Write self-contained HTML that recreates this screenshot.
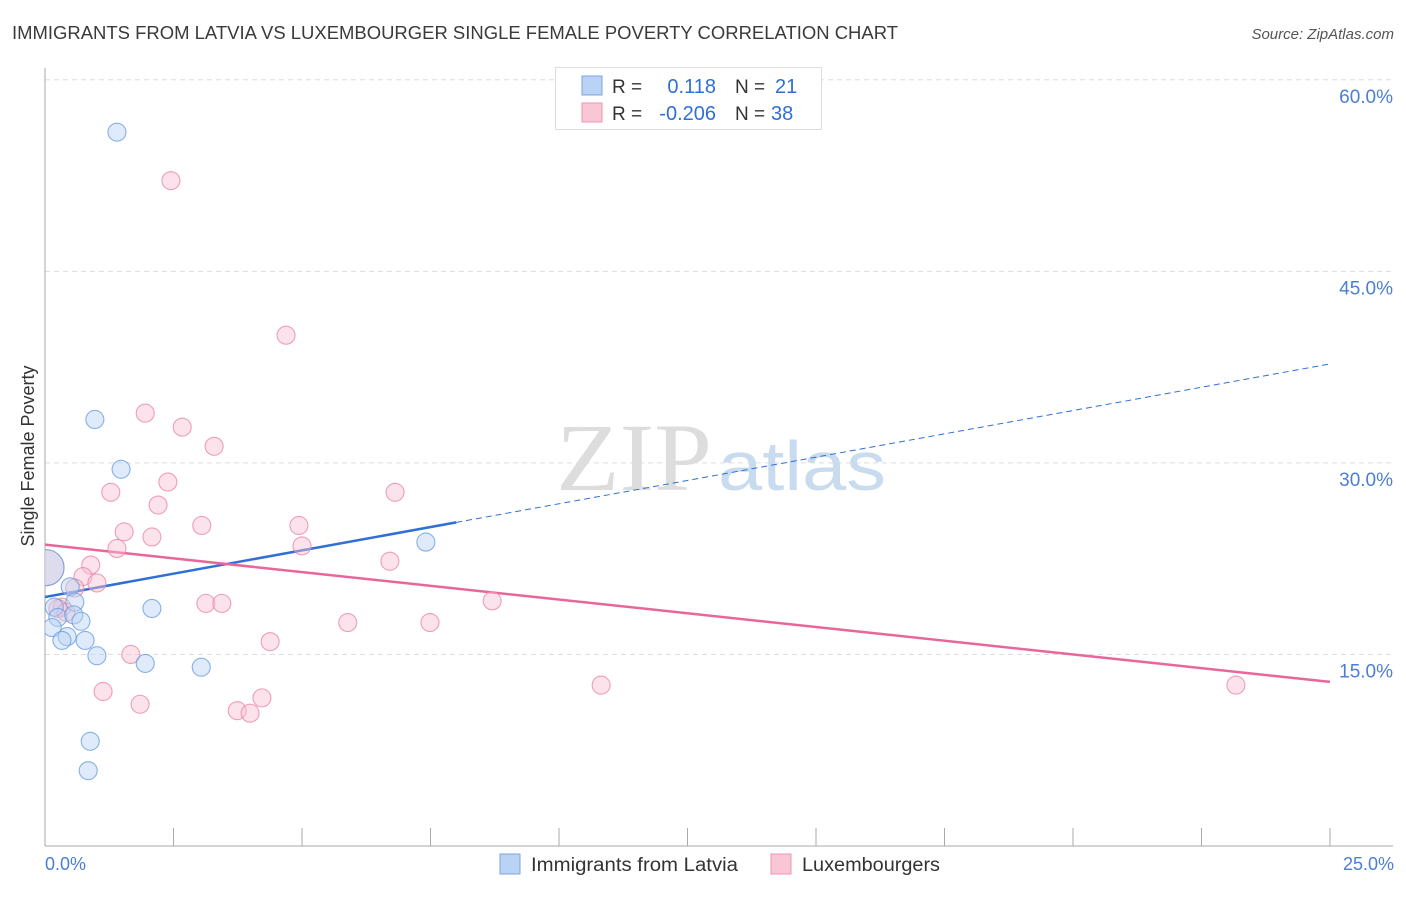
<!DOCTYPE html>
<html><head><meta charset="utf-8"><style>
body{margin:0;background:#fff;font-family:"Liberation Sans",sans-serif;}
</style></head><body>
<svg width="1406" height="892" xmlns="http://www.w3.org/2000/svg">
<text x="12" y="39" font-size="18" fill="#3a3a3a" textLength="886" lengthAdjust="spacingAndGlyphs">IMMIGRANTS FROM LATVIA VS LUXEMBOURGER SINGLE FEMALE POVERTY CORRELATION CHART</text>
<text x="1394" y="39" font-size="15" fill="#555" font-style="italic" text-anchor="end">Source: ZipAtlas.com</text>
<g id="grid"></g>
<text x="712" y="490" font-size="96" fill="#ddd" text-anchor="end" font-family="Liberation Serif,serif" textLength="156" lengthAdjust="spacingAndGlyphs">ZIP</text>
<text x="718" y="490" font-size="70" fill="#c9dcef" textLength="168" lengthAdjust="spacingAndGlyphs">atlas</text>
<text transform="translate(34,456) rotate(-90)" font-size="18" fill="#333" text-anchor="middle">Single Female Poverty</text>
<text x="45" y="870" font-size="18" fill="#4a7fd4">0.0%</text>
<text x="1394" y="870" font-size="18" fill="#4a7fd4" text-anchor="end">25.0%</text>
<defs><clipPath id="pc"><rect x="45" y="60" width="1360" height="786"/></clipPath></defs>
<g id="lines" clip-path="url(#pc)"></g>
<g id="pts" clip-path="url(#pc)"></g>
<g>
<rect x="555.5" y="67.5" width="266" height="62" fill="#fff" stroke="#ddd"/>
<rect x="582" y="76" width="20" height="19" fill="#b9d3f5" stroke="#7ba6e0"/>
<rect x="582" y="103" width="20" height="19" fill="#f9c6d5" stroke="#ee95b0"/>
<text x="612" y="93" font-size="19" fill="#333">R =</text>
<text x="716" y="93" font-size="20" fill="#2f6fd6" text-anchor="end">0.118</text>
<text x="735" y="93" font-size="19" fill="#333">N =</text>
<text x="775" y="93" font-size="20" fill="#2f6fd6">21</text>
<text x="612" y="120" font-size="19" fill="#333">R =</text>
<text x="716" y="120" font-size="20" fill="#2f6fd6" text-anchor="end">-0.206</text>
<text x="735" y="120" font-size="19" fill="#333">N =</text>
<text x="771" y="120" font-size="20" fill="#2f6fd6">38</text>
</g>
<g>
<rect x="500" y="854" width="20" height="20" fill="#b9d3f5" stroke="#7ba6e0"/>
<text x="531" y="871" font-size="19" fill="#333" textLength="207" lengthAdjust="spacingAndGlyphs">Immigrants from Latvia</text>
<rect x="771" y="854" width="20" height="20" fill="#f9c6d5" stroke="#ee95b0"/>
<text x="802" y="871" font-size="19" fill="#333" textLength="138" lengthAdjust="spacingAndGlyphs">Luxembourgers</text>
</g>
</svg>
<script>
const blueX=[1.40,0.97,1.48,7.41,0.02,0.49,0.18,0.58,2.08,0.25,0.56,0.70,0.14,0.43,0.33,0.78,1.01,1.95,3.04,0.88,0.84];
const blueY=[55.9,33.4,29.5,23.8,21.8,20.3,18.7,19.1,18.6,17.9,18.1,17.6,17.1,16.4,16.1,16.1,14.9,14.3,14.0,8.2,5.9];
const pinkX=[2.45,4.69,1.95,2.67,3.29,1.28,2.39,6.81,2.20,3.05,4.94,1.54,2.08,1.40,5.00,6.71,0.89,0.74,1.01,0.58,0.33,3.13,3.44,8.70,5.89,7.49,4.38,1.67,1.13,1.85,4.22,3.74,3.99,10.82,23.17,0.02,0.25,0.41];
const pinkY=[52.1,40.0,33.9,32.8,31.3,27.7,28.5,27.7,26.7,25.1,25.1,24.6,24.2,23.3,23.5,22.3,22.0,21.1,20.6,20.2,18.7,19.0,19.0,19.2,17.5,17.5,16.0,15.0,12.1,11.1,11.6,10.6,10.4,12.6,12.6,21.8,18.6,18.3];
const blueTrend=[19.5,0.73];
const pinkTrend=[23.6,-0.43];
const yTicks=[15,30,45,60];
const xTicks=[0,2.5,5,7.5,10,12.5,15,17.5,20,22.5,25];
const NS='http://www.w3.org/2000/svg';
const sx=v=>45+v*51.4, sy=v=>846-v*12.77;
function mk(t,a,p){const e=document.createElementNS(NS,t);for(const k in a)e.setAttribute(k,a[k]);p.appendChild(e);return e;}
const g=document.getElementById('grid');
yTicks.forEach(t=>{
 const l=mk('line',{x1:45,x2:1393,y1:sy(t),y2:sy(t),stroke:'#ddd','stroke-dasharray':'5,4'},g);
 
 
 const tx=mk('text',{x:1393,y:sy(t)+23,'font-size':19,fill:'#4a7fd4','text-anchor':'end'},g);
 tx.textContent=t.toFixed(1)+'%';
 
 
});
const ax=mk('line',{x1:45,x2:1393,y1:846,y2:846,stroke:'#aaa'},g);


const ay=mk('line',{x1:45,x2:45,y1:68,y2:846,stroke:'#aaa'},g);


xTicks.forEach(t=>{
 const l=mk('line',{x1:sx(t),x2:sx(t),y1:828,y2:846,stroke:'#aaa'},g);
 
 
});
const pts=document.getElementById('pts');
function dots(X,Y,fill,stroke,name){
 X.forEach((x,i)=>{
  const big=x<0.05;
  const c=mk('circle',{cx:sx(x),cy:sy(Y[i]),r:big?18:9,fill:fill,'fill-opacity':0.45,stroke:stroke,'stroke-width':1.1,'stroke-opacity':0.8},pts);
  
  
 });
}
dots(pinkX,pinkY,'#f8bfd0','#e98aa8','pink-point');
dots(blueX,blueY,'#b9d3f5','#6b9de0','blue-point');
const L=document.getElementById('lines');
const tr=(T,x)=>T[0]+T[1]*x;
let a=mk('line',{x1:sx(0),y1:sy(tr(blueTrend,0)),x2:sx(8),y2:sy(tr(blueTrend,8)),stroke:'#2f6fd6','stroke-width':2.5},L);


a=mk('line',{x1:sx(8),y1:sy(tr(blueTrend,8)),x2:sx(25),y2:sy(tr(blueTrend,25)),stroke:'#2f6fd6','stroke-width':1,'stroke-dasharray':'6,4'},L);


a=mk('line',{x1:sx(0),y1:sy(tr(pinkTrend,0)),x2:sx(25),y2:sy(tr(pinkTrend,25)),stroke:'#e8679a','stroke-width':2.5},L);


</script>
</body></html>
